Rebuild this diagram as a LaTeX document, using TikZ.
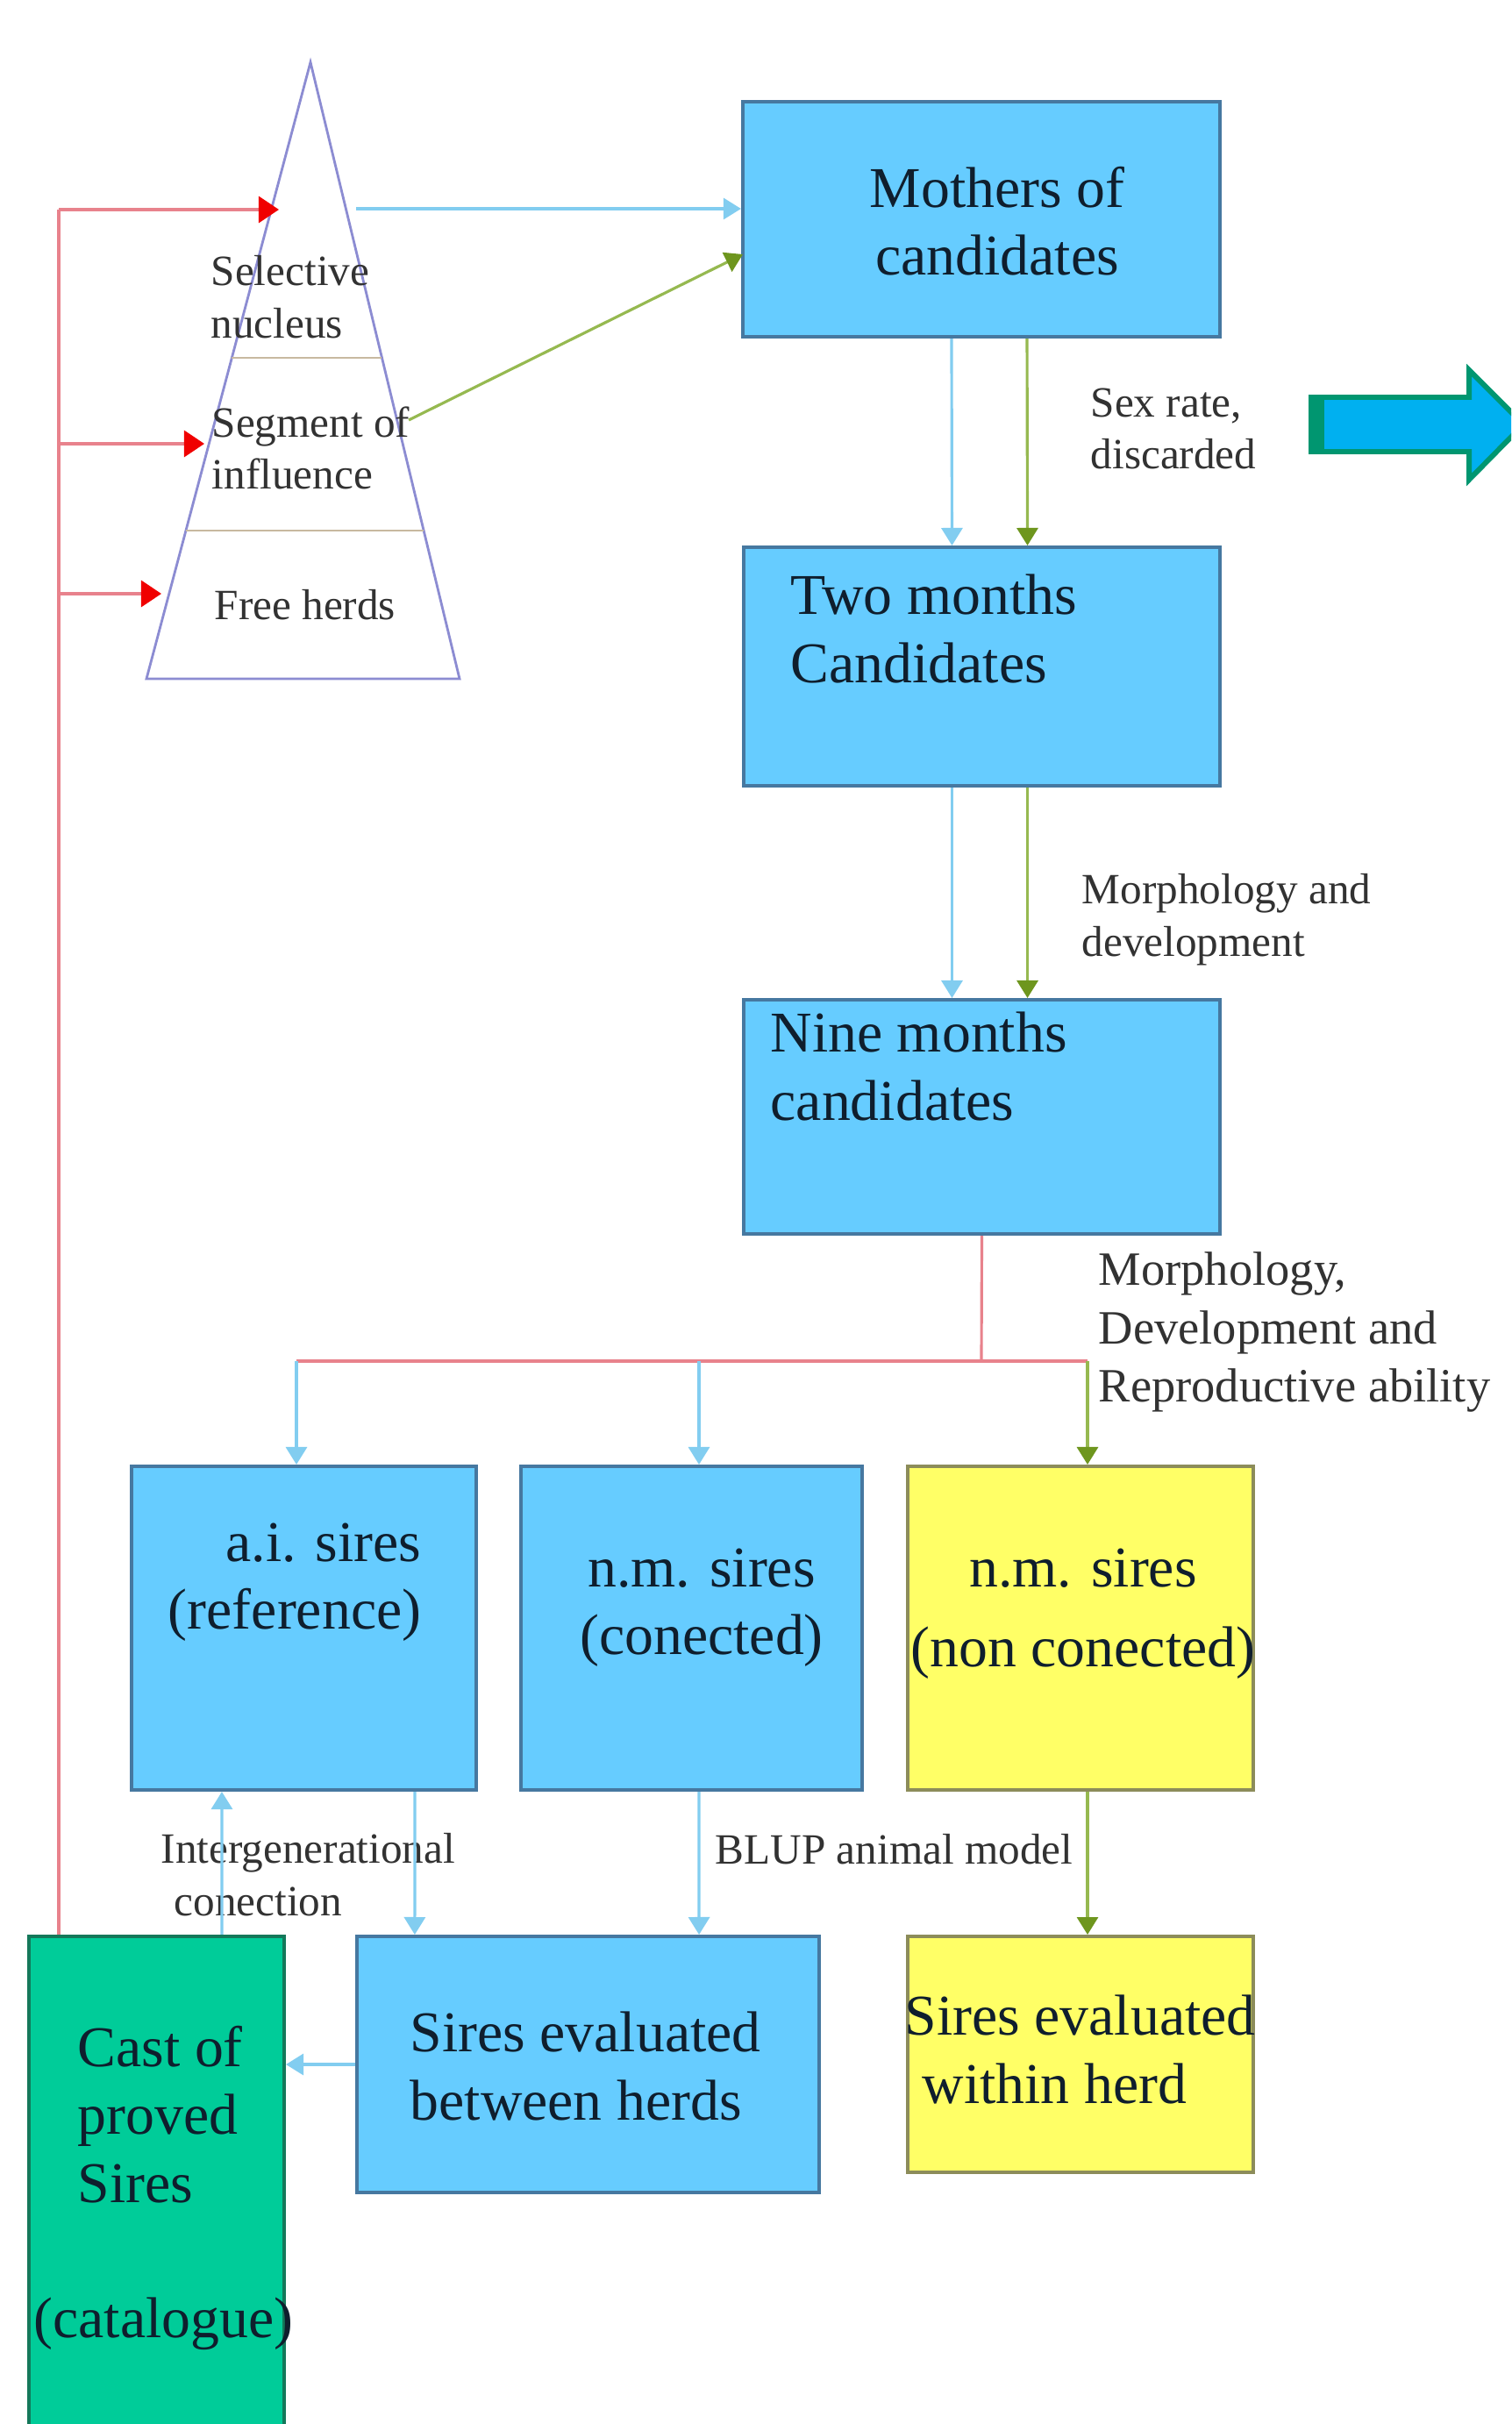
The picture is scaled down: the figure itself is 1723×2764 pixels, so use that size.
\documentclass[tikz,border=0pt]{standalone}
\usepackage{fontspec}
\setmainfont{Liberation Serif}
\usetikzlibrary{arrows.meta}
\definecolor{box_blue}{RGB}{102, 204, 255}
\definecolor{box_blue_edge}{RGB}{70, 120, 160}
\definecolor{box_yellow}{RGB}{255, 255, 102}
\definecolor{box_yellow_edge}{RGB}{140, 140, 90}
\definecolor{box_green}{RGB}{0, 204, 153}
\definecolor{box_green_edge}{RGB}{20, 120, 90}
\definecolor{line_red}{RGB}{232, 130, 140}
\definecolor{tip_red}{RGB}{240, 0, 0}
\definecolor{line_blue}{RGB}{130, 205, 240}
\definecolor{line_green}{RGB}{150, 185, 80}
\definecolor{tip_green}{RGB}{110, 150, 30}
\definecolor{pyr_edge}{RGB}{140, 140, 210}
\definecolor{pyr_div}{RGB}{200, 185, 160}
\definecolor{big_fill}{RGB}{0, 176, 240}
\definecolor{big_edge}{RGB}{0, 150, 112}
\definecolor{txt_dark}{RGB}{15, 30, 45}
\definecolor{txt_grey}{RGB}{50, 50, 50}
\tikzstyle{bb}=[rectangle,fill=box_blue,draw=box_blue_edge,line width=1.1pt]
\tikzstyle{yb}=[rectangle,fill=box_yellow,draw=box_yellow_edge,line width=1.1pt]
\tikzstyle{gb}=[rectangle,fill=box_green,draw=box_green_edge,line width=1.1pt]
\tikzstyle{bt}=[inner sep=0pt,text=txt_dark,font=\fontsize{18.7}{22}\selectfont]
\tikzstyle{lbl}=[inner sep=0pt,text=txt_grey,align=left,anchor=west,
  font=\fontsize{14}{17}\selectfont]
\tikzstyle{ba}=[draw=line_blue,line width=0.9pt,
  -{Triangle[length=0.2cm,width=0.24cm]}]
\tikzstyle{ga}=[draw=line_green,line width=0.9pt,
  -{Triangle[length=0.2cm,width=0.24cm,color=tip_green]}]
\tikzstyle{ra}=[draw=line_red,line width=0.9pt,
  -{Triangle[length=0.23cm,width=0.3cm,color=tip_red]}]
\tikzstyle{rl}=[draw=line_red,line width=0.9pt]
\tikzstyle{pyr}=[draw=pyr_edge,line width=0.8pt]
\tikzstyle{pyrdiv}=[draw=pyr_div,line width=0.8pt]
\tikzstyle{none}=[]

\begin{document}
\begin{tikzpicture}[x=0.01cm, y=-0.01cm]
    \useasboundingbox (0, 0) rectangle (1723, 2764);
    \clip (0, 0) rectangle (1723, 2764);
    \fill [white] (0, 0) rectangle (1723, 2764);
    % pyramid of herds
    \draw [style=pyr] (354, 71) -- (524, 774) -- (167, 774) -- cycle;
    \draw [style=pyrdiv] (264, 408) -- (435, 408);
    \draw [style=pyrdiv] (212, 605) -- (483, 605);
    \node [style=lbl] (30) at (240, 339) {Selective\\nucleus};
    \node [style=lbl] (31) at (241, 511) {Segment of\\influence};
    \node [style=lbl] (32) at (244, 690) {Free herds};
    % boxes
    \node [style=bb, minimum width=5.44cm, minimum height=2.68cm] (0) at (1119, 250) {};
    \node [style=bb, minimum width=5.43cm, minimum height=2.72cm] (1) at (1119.5, 760) {};
    \node [style=bb, minimum width=5.43cm, minimum height=2.67cm] (2) at (1119.5, 1273.5) {};
    \node [style=bb, minimum width=3.93cm, minimum height=3.69cm] (3) at (346.5, 1856.5) {};
    \node [style=bb, minimum width=3.89cm, minimum height=3.69cm] (4) at (788.5, 1856.5) {};
    \node [style=yb, minimum width=3.94cm, minimum height=3.69cm] (5) at (1232, 1856.5) {};
    \node [style=bb, minimum width=5.27cm, minimum height=2.92cm] (6) at (670.5, 2354) {};
    \node [style=yb, minimum width=3.94cm, minimum height=2.69cm] (7) at (1232, 2342.5) {};
    \node [style=gb, minimum width=2.91cm, minimum height=5.82cm] (8) at (178.5, 2499) {};
    % box texts
    \node [style=bt, align=center] (10) at (1137, 252) {Mothers of\\candidates};
    \node [style=bt, align=left, anchor=west] (11) at (901, 717) {Two months\\Candidates};
    \node [style=bt, align=left, anchor=west] (12) at (878, 1216) {Nine months\\candidates};
    \node [style=bt, align=right, anchor=east] (13) at (481, 1804) {a.i. sires\\(reference)};
    \node [style=bt, align=center] (14) at (800, 1833) {n.m. sires\\(conected)};
    \node [style=bt, align=center] (15) at (1235, 1840) {n.m. sires\\[4pt](non conected)};
    \node [style=bt, align=left, anchor=west] (16) at (467, 2356) {Sires evaluated\\between herds};
    \node [style=bt, align=left, anchor=west] (17) at (1031, 2337) {Sires evaluated\\\hspace*{0.2cm}within herd};
    \node [style=bt, align=left, anchor=west] (18) at (38, 2495) {\hspace*{0.5cm}Cast of\\\hspace*{0.5cm}proved\\\hspace*{0.5cm}Sires\\[22pt](catalogue)};
    % side labels
    \node [style=lbl] (20) at (1243, 489) {Sex rate,\\discarded};
    \node [style=lbl] (21) at (1233, 1049) {Morphology and\\development};
    \node [style=lbl, font=\fontsize{15.5}{18.8}\selectfont] (22) at (1252, 1519) {Morphology,\\Development and\\Reproductive\ ability};
    \node [style=lbl] (23) at (183, 2138) {Intergenerational\\\hspace*{0.15cm}conection};
    \node [style=lbl] (24) at (815, 2109) {BLUP animal model};
    % big arrow
    \draw [fill=big_fill, draw=big_edge, line width=1.7pt] (1495, 453) -- (1675, 453) -- (1675, 422) -- (1737, 484) -- (1675, 547) -- (1675, 515) -- (1495, 515) -- cycle;
    \fill [big_edge] (1495, 453) rectangle (1510, 515);
    % free ends
    \node [style=none] (40) at (67, 239) {};
    \node [style=none] (41) at (318, 239) {};
    \node [style=none] (42) at (67, 506) {};
    \node [style=none] (43) at (233, 506) {};
    \node [style=none] (44) at (67, 677) {};
    \node [style=none] (45) at (184, 677) {};
    \node [style=none] (46) at (406, 238) {};
    \node [style=none] (47) at (466, 479) {};
    \node [style=none] (48) at (847, 290) {};
    \node [style=none] (49) at (1119, 1552) {};
    \node [style=none] (50) at (338, 1552) {};
    \node [style=none] (51) at (1240, 1552) {};
    \node [style=none] (52) at (797, 1552) {};
    % connectors
    \draw [style=rl] (8.north -| 40.center) to (40.center);
    \draw [style=ra] (40.center) to (41.center);
    \draw [style=ra] (42.center) to (43.center);
    \draw [style=ra] (44.center) to (45.center);
    \draw [style=ba] (46.center) to (46.center -| 0.west);
    \draw [style=ga] (47.center) to (48.center);
    \draw [style=ba] ([xshift=-0.34cm]0.south) to ([xshift=-0.34cm]1.north);
    \draw [style=ga] ([xshift=0.52cm]0.south) to ([xshift=0.52cm]1.north);
    \draw [style=ba] ([xshift=-0.34cm]1.south) to ([xshift=-0.34cm]2.north);
    \draw [style=ga] ([xshift=0.52cm]1.south) to ([xshift=0.52cm]2.north);
    \draw [style=rl] (2.south) to (49.center);
    \draw [style=rl] (50.center) to (51.center);
    \draw [style=ba] (50.center) to (50.center |- 3.north);
    \draw [style=ba] (52.center) to (52.center |- 4.north);
    \draw [style=ga] (51.center) to (51.center |- 5.north);
    \draw [style=ba] ([xshift=0.745cm]8.north) to ([xshift=-0.935cm]3.south);
    \draw [style=ba] ([xshift=1.265cm]3.south) to ([xshift=-1.975cm]6.north);
    \draw [style=ba] ([xshift=0.085cm]4.south) to ([xshift=1.265cm]6.north);
    \draw [style=ga] ([xshift=0.08cm]5.south) to ([xshift=0.08cm]7.north);
    \draw [style=ba] (6.west) to (6.west -| 8.east);
\end{tikzpicture}
\end{document}
